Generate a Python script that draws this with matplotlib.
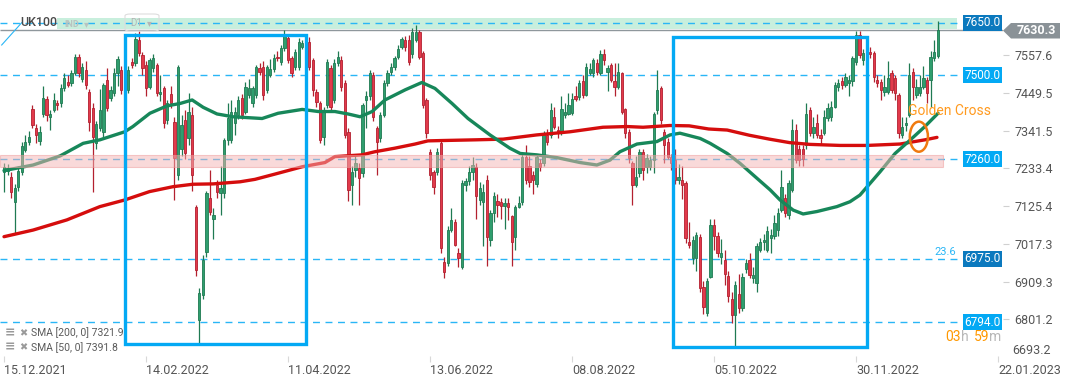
import numpy as np
import matplotlib.pyplot as plt
from matplotlib.patches import Rectangle, Ellipse, Polygon, FancyBboxPatch
from matplotlib.lines import Line2D

plt.rcParams['font.family'] = ['Roboto', 'DejaVu Sans']

# UK100 daily candles, one per trading day from 15.12.2021 (bar 0) to 05.01.2023
opens = [
    7224, 7227, 7210, 7138, 7180, 7224, 7286, 7310, 7402, 7348,
    7313, 7389, 7431, 7381, 7400, 7420, 7420, 7462, 7481, 7477,
    7505, 7553, 7488, 7515, 7453, 7405, 7305, 7348, 7338, 7486,
    7434, 7448, 7505, 7515, 7458, 7458, 7539, 7534, 7600, 7558,
    7529, 7467, 7520, 7529, 7446, 7462, 7372, 7446, 7367, 7214,
    7290, 7372, 7319, 7386, 7124, 6800, 6872, 6995, 7148, 7090,
    7186, 7162, 7162, 7314, 7314, 7362, 7386, 7434, 7396, 7443,
    7419, 7443, 7520, 7524, 7458, 7500, 7519, 7553, 7538, 7577,
    7605, 7548, 7524, 7524, 7581, 7591, 7596, 7543, 7453, 7419,
    7324, 7415, 7520, 7429, 7534, 7543, 7477, 7338, 7186, 7230,
    7234, 7219, 7429, 7440, 7500, 7348, 7320, 7386, 7477, 7510,
    7524, 7552, 7580, 7600, 7600, 7560, 7600, 7624, 7562, 7429,
    7281, 7224, 7224, 7305, 6967, 6962, 7057, 7081, 6991, 6952,
    7186, 7196, 7224, 7238, 7143, 7138, 7200, 7029, 7105, 7139,
    7136, 7127, 7133, 7096, 7038, 7124, 7138, 7267, 7240, 7215,
    7190, 7248, 7248, 7330, 7330, 7380, 7343, 7338, 7385, 7390,
    7393, 7440, 7437, 7482, 7443, 7505, 7505, 7534, 7506, 7560,
    7510, 7529, 7482, 7467, 7505, 7402, 7338, 7248, 7186, 7220,
    7281, 7238, 7238, 7257, 7400, 7462, 7338, 7310, 7267, 7257,
    7200, 7200, 7191, 7024, 6976, 6976, 7038, 6895, 6819, 6924,
    7072, 7040, 6980, 6972, 6925, 6860, 6815, 6875, 6835, 6945,
    6972, 6920, 6906, 7000, 7024, 7000, 7035, 7040, 7056, 7115,
    7148, 7100, 7172, 7343, 7290, 7290, 7300, 7400, 7334, 7362,
    7329, 7334, 7377, 7381, 7410, 7467, 7482, 7472, 7477, 7482,
    7538, 7615, 7543, 7562, 7565, 7562, 7486, 7480, 7453, 7453,
    7505, 7491, 7443, 7329, 7357, 7386, 7510, 7443, 7448, 7467,
    7486, 7486, 7548, 7555,
]
closes = [
    7238, 7234, 7167, 7176, 7225, 7296, 7310, 7324, 7358, 7329,
    7336, 7434, 7386, 7389, 7429, 7414, 7462, 7491, 7472, 7505,
    7553, 7505, 7524, 7472, 7367, 7324, 7361, 7400, 7472, 7405,
    7458, 7505, 7545, 7458, 7486, 7515, 7529, 7602, 7564, 7520,
    7462, 7543, 7548, 7448, 7453, 7362, 7420, 7420, 7262, 7524,
    7357, 7276, 7395, 7214, 6943, 6876, 6972, 7163, 7110, 7100,
    7167, 7176, 7314, 7377, 7396, 7396, 7429, 7386, 7467, 7462,
    7462, 7524, 7510, 7443, 7524, 7519, 7548, 7548, 7577, 7615,
    7543, 7505, 7567, 7596, 7591, 7600, 7524, 7457, 7424, 7315,
    7400, 7539, 7410, 7534, 7553, 7467, 7329, 7172, 7224, 7250,
    7205, 7415, 7440, 7505, 7381, 7310, 7386, 7477, 7505, 7524,
    7548, 7576, 7602, 7581, 7539, 7624, 7624, 7553, 7415, 7334,
    7215, 7181, 7281, 7005, 6938, 7057, 7086, 7014, 6976, 7191,
    7196, 7224, 7243, 7153, 7177, 7167, 7038, 7105, 7153, 7129,
    7127, 7133, 7124, 7024, 7124, 7134, 7267, 7200, 7195, 7200,
    7267, 7238, 7334, 7310, 7400, 7353, 7334, 7402, 7395, 7415,
    7431, 7431, 7477, 7443, 7524, 7517, 7543, 7510, 7560, 7543,
    7520, 7486, 7467, 7510, 7395, 7334, 7262, 7186, 7210, 7281,
    7229, 7262, 7257, 7389, 7458, 7372, 7300, 7267, 7250, 7200,
    7210, 7186, 7033, 7015, 7029, 7043, 6890, 6838, 6910, 7072,
    7040, 6991, 6991, 6930, 6867, 6815, 6900, 6834, 6924, 6962,
    6929, 6929, 7010, 7024, 7029, 7053, 7043, 7076, 7106, 7181,
    7105, 7191, 7343, 7257, 7257, 7260, 7389, 7334, 7353, 7329,
    7320, 7381, 7405, 7410, 7472, 7477, 7472, 7496, 7486, 7548,
    7615, 7558, 7562, 7560, 7560, 7496, 7477, 7458, 7467, 7491,
    7458, 7448, 7334, 7353, 7362, 7500, 7467, 7467, 7467, 7491,
    7448, 7551, 7567, 7630,
]
highs = [
    7250, 7245, 7222, 7190, 7240, 7310, 7330, 7340, 7415, 7360,
    7355, 7470, 7440, 7400, 7450, 7430, 7475, 7505, 7500, 7515,
    7560, 7560, 7535, 7540, 7460, 7420, 7370, 7460, 7478, 7520,
    7470, 7520, 7555, 7525, 7500, 7525, 7548, 7620, 7625, 7565,
    7540, 7550, 7560, 7535, 7500, 7470, 7430, 7468, 7380, 7530,
    7385, 7400, 7450, 7410, 7130, 6890, 6985, 7170, 7230, 7120,
    7200, 7240, 7320, 7420, 7430, 7410, 7440, 7445, 7480, 7490,
    7470, 7530, 7535, 7540, 7530, 7545, 7560, 7570, 7585, 7630,
    7618, 7555, 7575, 7605, 7600, 7615, 7610, 7550, 7460, 7425,
    7410, 7545, 7530, 7545, 7570, 7555, 7485, 7350, 7240, 7275,
    7250, 7420, 7455, 7515, 7510, 7355, 7395, 7485, 7515, 7535,
    7555, 7585, 7610, 7612, 7615, 7635, 7642, 7630, 7570, 7435,
    7290, 7230, 7292, 7318, 6980, 7070, 7120, 7090, 7005, 7200,
    7205, 7240, 7265, 7250, 7195, 7190, 7215, 7115, 7165, 7160,
    7150, 7150, 7150, 7100, 7130, 7155, 7275, 7300, 7270, 7225,
    7275, 7260, 7340, 7345, 7420, 7410, 7355, 7440, 7420, 7450,
    7450, 7470, 7485, 7500, 7535, 7535, 7550, 7545, 7572, 7575,
    7530, 7535, 7535, 7535, 7510, 7405, 7345, 7255, 7270, 7290,
    7290, 7275, 7268, 7395, 7515, 7470, 7345, 7320, 7275, 7290,
    7245, 7240, 7198, 7080, 7040, 7050, 7045, 6910, 6920, 7090,
    7090, 7050, 7030, 7000, 6940, 6880, 6910, 6930, 6935, 6975,
    6990, 6950, 7020, 7035, 7045, 7070, 7060, 7100, 7120, 7230,
    7160, 7200, 7375, 7360, 7300, 7300, 7420, 7410, 7380, 7390,
    7345, 7400, 7420, 7425, 7480, 7490, 7495, 7505, 7500, 7555,
    7625, 7625, 7575, 7575, 7580, 7570, 7500, 7490, 7500, 7540,
    7515, 7500, 7450, 7380, 7380, 7535, 7520, 7490, 7500, 7525,
    7495, 7570, 7600, 7655,
]
lows = [
    7167, 7215, 7150, 7048, 7170, 7215, 7280, 7300, 7350, 7305,
    7300, 7380, 7370, 7343, 7395, 7400, 7410, 7455, 7465, 7470,
    7500, 7495, 7480, 7460, 7340, 7167, 7290, 7340, 7320, 7398,
    7425, 7440, 7470, 7445, 7450, 7450, 7520, 7525, 7555, 7500,
    7440, 7460, 7510, 7440, 7425, 7350, 7360, 7405, 7143, 7200,
    7270, 7260, 7300, 7170, 6925, 6728, 6860, 6980, 7100, 7030,
    7150, 7100, 7150, 7300, 7305, 7330, 7375, 7375, 7390, 7435,
    7410, 7435, 7500, 7430, 7450, 7495, 7510, 7540, 7530, 7570,
    7535, 7495, 7515, 7515, 7575, 7585, 7515, 7440, 7410, 7305,
    7300, 7405, 7400, 7420, 7525, 7455, 7320, 7140, 7129, 7210,
    7129, 7210, 7350, 7430, 7370, 7215, 7310, 7380, 7470, 7500,
    7515, 7545, 7575, 7570, 7530, 7550, 7595, 7545, 7405, 7320,
    7200, 7160, 7215, 6990, 6920, 6955, 7050, 7010, 6950, 6945,
    7170, 7185, 7200, 7090, 7130, 7010, 6955, 7010, 7080, 7095,
    7090, 7060, 7085, 6955, 7000, 7120, 7130, 7190, 7180, 7160,
    7180, 7225, 7240, 7300, 7320, 7345, 7320, 7330, 7378, 7385,
    7385, 7425, 7430, 7435, 7440, 7500, 7495, 7500, 7500, 7530,
    7455, 7480, 7440, 7460, 7390, 7320, 7250, 7128, 7180, 7210,
    7200, 7220, 7230, 7220, 7390, 7360, 7250, 7260, 7230, 7190,
    7190, 7145, 7020, 7005, 6960, 6940, 6880, 6818, 6810, 6920,
    7000, 6980, 6960, 6900, 6850, 6790, 6719, 6820, 6825, 6935,
    6920, 6905, 6880, 6995, 7000, 6995, 6990, 7030, 7040, 7110,
    7095, 7090, 7165, 7250, 7240, 7240, 7290, 7325, 7320, 7320,
    7300, 7330, 7370, 7370, 7405, 7455, 7460, 7465, 7440, 7470,
    7530, 7550, 7530, 7550, 7550, 7480, 7465, 7430, 7440, 7445,
    7450, 7430, 7320, 7320, 7340, 7380, 7430, 7435, 7440, 7460,
    7420, 7410, 7540, 7550,
]

# moving averages (bar index, value)
sma200_bar = [0, 8.2, 17.7, 27, 34, 41, 47.6, 53.2, 58.9, 66.5,
              70.7, 76.3, 84, 90.4, 93.2, 100.8, 104.5, 110, 115.8, 119.4,
              123.4, 132.7, 140.6, 150, 159.4, 168.7, 175.5, 180, 187.6, 193,
              198.5, 203.7, 210, 215.6, 221.3, 227, 235.5, 243.1, 252.4, 259.4,
              262.8]
sma200_val = [7038, 7057, 7086, 7124, 7143, 7167, 7181, 7188, 7189, 7195,
              7202, 7217, 7238, 7250, 7267, 7272, 7281, 7291, 7303, 7312,
              7313, 7315, 7317, 7329, 7338, 7351, 7353, 7351, 7356, 7355,
              7346, 7343, 7328, 7317, 7307, 7302, 7299, 7299, 7303, 7315,
              7322]
sma50_bar = [0, 8.2, 15.8, 22.3, 27, 34, 36.3, 41.1, 45.9, 49.6,
             53, 56.1, 60, 64.5, 72.7, 77.2, 84, 88.5, 93.2, 96.9,
             100.3, 103.7, 107.3, 113, 117.7, 121.4, 126.2, 130.7, 136.9, 142.5,
             145.4, 150.1, 155.8, 162.3, 167, 170.7, 173.5, 178.3, 183.9, 187.6,
             190.4, 196.1, 198.9, 203.7, 207.3, 212.1, 215.8, 218.6, 222.3, 225.1,
             229, 234.6, 238.3, 241.1, 244, 246.8, 251, 255.2, 259.4, 263.1]
sma50_val = [7227, 7243, 7269, 7305, 7315, 7338, 7353, 7391, 7412, 7419,
             7429, 7408, 7389, 7381, 7376, 7391, 7402, 7396, 7396, 7389,
             7381, 7396, 7429, 7458, 7479, 7462, 7419, 7376, 7329, 7291,
             7276, 7272, 7264, 7250, 7243, 7257, 7281, 7303, 7310, 7329,
             7334, 7319, 7305, 7276, 7248, 7205, 7172, 7143, 7114, 7103,
             7110, 7124, 7138, 7157, 7191, 7224, 7276, 7314, 7353, 7391]

date_bars = [0, 40, 80, 120, 160, 200, 240, 280]
date_labels = ['15.12.2021', '14.02.2022', '11.04.2022', '13.06.2022',
               '08.08.2022', '05.10.2022', '30.11.2022', '22.01.2023']
price_ticks = [7557.6, 7449.5, 7341.5, 7233.4, 7125.4, 7017.3, 6909.3, 6801.2]
bottom_tick = 6693.2
levels = [7650.0, 7500.0, 7260.0, 6975.0, 6794.0]
level_dark = [True, False, False, True, False]
last_price = 7630.3

GREEN, GREEN_E = '#2f9e6e', '#1f7a52'
RED, RED_E = '#e23a4b', '#b3202f'
BLUE = '#03a9f4'
LINE_BLUE = '#29b6f6'

W, H = 1072, 382
def fx(x):
    return x / W
def fy(y):
    return 1 - y / H

fig = plt.figure(figsize=(10.72, 3.82), dpi=100)
ax = fig.add_axes([0, fy(356), fx(1003), 356 / H])
ax.set_xlim(-1.13, 281.4)
ax.set_ylim(6696.8, 7714.9)
for s in ax.spines.values():
    s.set_visible(False)

o = np.array(opens, float)
c = np.array(closes, float)
hi = np.array(highs, float)
lo = np.array(lows, float)
idx = np.arange(len(c))
up = c >= o
body_lo = np.minimum(o, c)
body_h = np.maximum(np.abs(c - o), 3)

# zones
x_end = (957 - 4) / 3.55
ax.add_patch(Rectangle(((57 - 4) / 3.55, 7631), x_end - (57 - 4) / 3.55, 32,
                       facecolor='#c8efdd', edgecolor='none', zorder=0.5))
ax.hlines(levels, -1.13, x_end, colors=LINE_BLUE, linestyles=(0, (5, 4)), lw=1.0, zorder=1)
ax.hlines(last_price, -1.13, 281.4, colors='#8f979c', lw=1.0, zorder=1)

# candles
for m, fc, ec in [(up, GREEN, GREEN_E), (~up, RED, RED_E)]:
    ax.vlines(idx[m], lo[m], hi[m], color=ec, lw=0.9, zorder=2)
    ax.bar(idx[m], body_h[m], bottom=body_lo[m], width=0.64, color=fc,
           edgecolor=ec, linewidth=0.6, zorder=2.5)

# moving averages
ax.plot(sma200_bar, sma200_val, color='#d50d0d', lw=2.4, zorder=3, solid_capstyle='round')
ax.plot(sma50_bar, sma50_val, color='#17875a', lw=2.4, zorder=3, solid_capstyle='round')

# support band around 7260
ax.add_patch(Rectangle((-1.13, 7236), (943 - 4) / 3.55 + 1.13, 36,
                       facecolor='#f4b4b4', edgecolor='#ee9a9a', lw=0.8, alpha=0.5, zorder=4))

# highlighted periods
for x0, x1, y0, y1 in [(34.1, 85.0, 6731, 7615), (188.4, 243.2, 6723, 7609)]:
    ax.add_patch(Rectangle((x0, y0), x1 - x0, y1 - y0, fill=False,
                           edgecolor=BLUE, lw=2.4, zorder=6))

# golden cross
ax.add_patch(Ellipse((257.7, 7324), 5.1, 86, fill=False, edgecolor='#f07a10', lw=1.8, zorder=7))
ax.text(254.6, 7397, 'Golden Cross', color='#ff9a1f', fontsize=10, va='center', zorder=7)

# axes ticks and labels
ax.yaxis.tick_right()
ax.set_yticks(price_ticks)
ax.set_yticklabels([f'{v:.1f}' for v in price_ticks])
ax.tick_params(axis='y', length=4, color='#d0d0d0', labelsize=9, labelcolor='#555555', pad=4)
ax.text(1.0 + 9 / 1003, bottom_tick, f'{bottom_tick:.1f}', transform=ax.get_yaxis_transform(),
        fontsize=9, color='#555555', va='bottom', ha='left')
ax.set_xticks(date_bars)
ax.set_xticklabels(date_labels)
ax.tick_params(axis='x', length=4, color='#d8d8d8', labelsize=9, labelcolor='#555555', pad=2)
for lab in ax.get_xticklabels():
    lab.set_ha('left')

# price tags on the right
for lv, dark in zip(levels, level_dark):
    ax.text(982.5 / 1003, lv, f'{lv:.1f}', transform=ax.get_yaxis_transform(),
            ha='center', va='center', color='white', fontsize=8.5, zorder=8,
            bbox=dict(boxstyle='square,pad=0.12', fc='#0b79be' if dark else BLUE, ec='none'))
fig.patches.append(Polygon([(fx(1003), fy(30.6)), (fx(1011), fy(23)), (fx(1060), fy(23)),
                            (fx(1060), fy(38.5)), (fx(1011), fy(38.5))], closed=True,
                           transform=fig.transFigure, facecolor='#8a9297', edgecolor='none'))
fig.text(fx(1036), fy(30.8), f'{last_price:.1f}', color='white', fontsize=9,
         fontweight='bold', ha='center', va='center')

fig.text(fx(934), fy(252), '23.6', color=LINE_BLUE, fontsize=8, va='center')

# countdown to candle close
for xs, t, col in [(945, '03', '#ff9800'), (960.5, 'h', '#b8b8b8'),
                   (973.5, '59', '#ff9800'), (989.5, 'm', '#b8b8b8')]:
    fig.text(fx(xs), fy(337), t, color=col, fontsize=10, va='center')

# header
fig.text(fx(20), fy(23), 'UK100', color='#4a4a4a', fontsize=9, fontweight='medium', va='center')
fig.add_artist(Line2D([fx(1.7), fx(21.7)], [fy(45), fy(22.7)], color=LINE_BLUE, lw=0.8))
fig.text(fx(64), fy(24.5), 'IND', color='#b9c3c0', fontsize=6.5, fontweight='bold', va='center')
fig.text(fx(84), fy(24), '\u25be', color='#b9c3c0', fontsize=7, va='center')
fig.patches.append(FancyBboxPatch((fx(125), fy(31)), fx(34), 17 / H,
                                  boxstyle='round,pad=0,rounding_size=0.005',
                                  transform=fig.transFigure, facecolor='none',
                                  edgecolor='#dddddd', lw=0.8))
fig.text(fx(130), fy(23), 'D1', color='#b5b5b5', fontsize=7, va='center')
fig.text(fx(147), fy(23), '\u25be', color='#b5b5b5', fontsize=7, va='center')

# legend
for yy, t in [(333, 'SMA [200, 0] 7321.9'), (347.5, 'SMA [50, 0] 7391.8')]:
    fig.text(fx(5), fy(yy), '\u2261', color='#9a9a9a', fontsize=9, va='center', fontweight='bold')
    fig.text(fx(19), fy(yy), '\u2716', color='#9a9a9a', fontsize=7, va='center')
    fig.text(fx(31), fy(yy), t, color='#5a5a5a', fontsize=7.5, va='center', zorder=1)

fig.savefig('out.png', dpi=100)
